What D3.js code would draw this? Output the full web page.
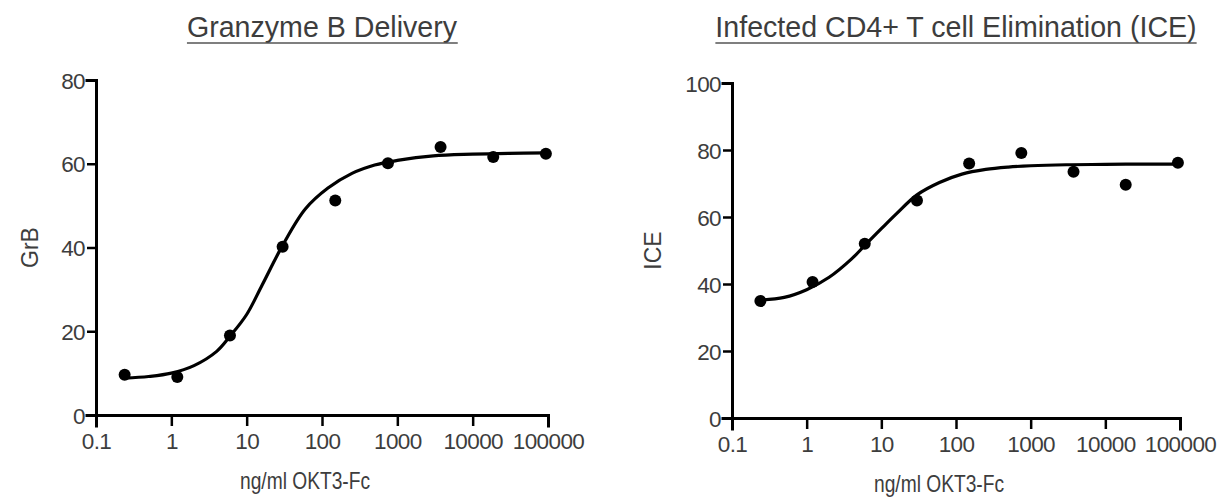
<!DOCTYPE html>
<html>
<head>
<meta charset="utf-8">
<script src="https://cdn.jsdelivr.net/npm/d3@7"></script>
<style>
  body { margin: 0; background: #fff; }
  svg { display: block; font-family: "Liberation Sans", Arial, sans-serif; }
</style>
</head>
<body>
<div id="chart"></div>
<script>
// 1. DATA
const doses = [0.24, 1.2, 6, 30, 150, 750, 3750, 18750, 93750];
const grbValues = [9.6, 9.1, 19.0, 40.2, 51.2, 60.1, 64.0, 61.6, 62.4];
const iceValues = [34.9, 40.6, 52.0, 64.9, 76.0, 79.1, 73.5, 69.6, 76.2];

// fitted curves
const curveDoses = [0.24, 0.5, 1, 2, 4, 6, 10, 16, 30, 60, 120, 250, 500, 1000, 3000, 10000, 30000, 93750];
const grbCurve = [8.8, 9.2, 10.0, 11.8, 15.2, 18.8, 24, 31, 40.5, 49.2, 54.2, 57.7, 59.7, 60.8, 61.9, 62.3, 62.5, 62.6];
const iceCurve = [35.2, 36.0, 38.3, 42.0, 47.5, 51.5, 56.5, 61.0, 66.6, 70.3, 72.8, 74.2, 74.9, 75.3, 75.6, 75.7, 75.8, 75.8];

const xTicks = [0.1, 1, 10, 100, 1000, 10000, 100000];
const grbTicks = [0, 20, 40, 60, 80];
const iceTicks = [0, 20, 40, 60, 80, 100];

const titles = ["Granzyme B Delivery", "Infected CD4+ T cell Elimination (ICE)"];
const yTitles = ["GrB", "ICE"];
const xTitle = "ng/ml OKT3-Fc";

// 2. SETUP
const width = 1224;
const height = 501;
const textColor = "#3d3d3d";

const svg = d3.select("#chart")
    .append("svg")
    .attr("width", width)
    .attr("height", height)
    .attr("viewBox", [0, 0, width, height]);

const panels = [
    { title: titles[0], yTitle: yTitles[0], values: grbValues, curve: grbCurve,
      yMax: 80, yTicks: grbTicks, x0: 96, x1: 548, y0: 415, y1: 80, yTitleX: 38 },
    { title: titles[1], yTitle: yTitles[1], values: iceValues, curve: iceCurve,
      yMax: 100, yTicks: iceTicks, x0: 732, x1: 1180, y0: 418, y1: 83, yTitleX: 661 }
];

panels.forEach(p => {
    const g = svg.append("g");

    const x = d3.scaleLog()
        .domain([0.1, 100000])
        .range([p.x0, p.x1]);

    const y = d3.scaleLinear()
        .domain([0, p.yMax])
        .range([p.y0, p.y1]);

    // --- AXES ---
    const xAxis = g.append("g")
        .attr("transform", `translate(0, ${p.y0})`)
        .call(d3.axisBottom(x)
            .tickValues(xTicks)
            .tickFormat(d => String(d))
            .tickSizeOuter(0)
            .tickSize(11)
            .tickPadding(7));

    const yAxis = g.append("g")
        .attr("transform", `translate(${p.x0}, 0)`)
        .call(d3.axisLeft(y)
            .tickValues(p.yTicks)
            .tickSizeOuter(0)
            .tickSize(9)
            .tickPadding(2));

    [xAxis, yAxis].forEach(a => {
        a.select(".domain")
            .attr("stroke", "#000")
            .attr("stroke-width", 3)
            .attr("stroke-linecap", "square");
        a.selectAll(".tick line")
            .attr("stroke", "#000")
            .attr("stroke-width", 2.5);
        a.selectAll(".tick text")
            .attr("fill", textColor)
            .style("font-size", "22.5px")
            .style("letter-spacing", "-0.6px");
    });
    yAxis.selectAll(".tick text").attr("dy", "0.36em");

    // --- CURVE ---
    const line = d3.line()
        .x((d, i) => x(curveDoses[i]))
        .y(d => y(d))
        .curve(d3.curveCatmullRom.alpha(0.5));

    g.append("path")
        .datum(p.curve)
        .attr("d", line)
        .attr("fill", "none")
        .attr("stroke", "#000")
        .attr("stroke-width", 3.2);

    // --- POINTS ---
    g.selectAll("circle")
        .data(p.values)
        .join("circle")
        .attr("cx", (d, i) => x(doses[i]))
        .attr("cy", d => y(d))
        .attr("r", 6)
        .attr("fill", "#000");

    // --- LABELS ---
    const cx = (p.x0 + p.x1) / 2;

    const title = g.append("text")
        .attr("x", cx)
        .attr("y", 37)
        .attr("text-anchor", "middle")
        .attr("fill", textColor)
        .style("font-size", "28.6px")
        .text(p.title);

    const bb = title.node().getBBox();
    g.append("line")
        .attr("x1", bb.x)
        .attr("x2", bb.x + bb.width)
        .attr("y1", 43)
        .attr("y2", 43)
        .attr("stroke", "#555")
        .attr("stroke-width", 1.5);

    // x title, condensed like the source
    g.append("text")
        .attr("transform", `translate(${cx - 17}, ${p.y0 + 74}) scale(0.8, 1)`)
        .attr("text-anchor", "middle")
        .attr("fill", textColor)
        .style("font-size", "24px")
        .text(xTitle);

    g.append("text")
        .attr("transform", `translate(${p.yTitleX}, ${(p.y0 + p.y1) / 2}) rotate(-90)`)
        .attr("text-anchor", "middle")
        .attr("fill", textColor)
        .style("font-size", "23px")
        .text(p.yTitle);
});
</script>
</body>
</html>
